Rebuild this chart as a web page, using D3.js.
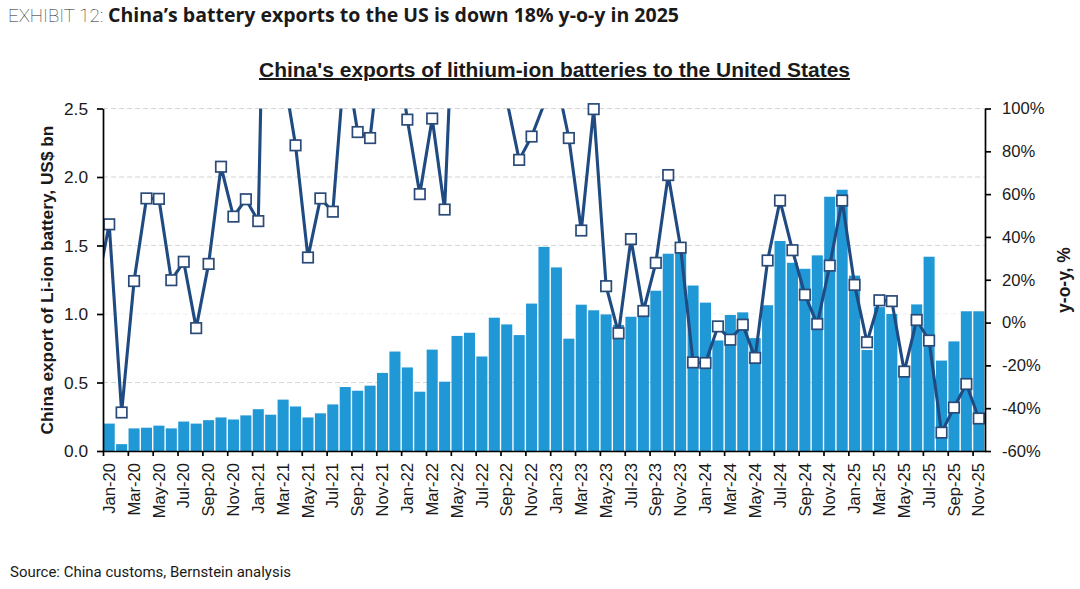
<!DOCTYPE html>
<html><head><meta charset="utf-8">
<script src="https://cdn.jsdelivr.net/npm/d3@7"></script>
<style>html,body{margin:0;padding:0;background:#fff}svg{display:block}text{font-family:"Liberation Sans",Arial,sans-serif;fill:#1a1a1a}</style>
</head><body><svg id="c" width="1080" height="589"></svg>
<script>
const years = ["20","21","22","23","24","25"];
const monthNames = ["Jan","Feb","Mar","Apr","May","Jun","Jul","Aug","Sep","Oct","Nov","Dec"];
const categories = years.flatMap(y => monthNames.map(m => m + "-" + y)).slice(0, 71);
const exportsUsdBn = [
 0.20,0.05,0.165,0.17,0.185,0.165,0.215,0.20,0.225,0.245,0.23,0.26,
 0.305,0.265,0.375,0.325,0.245,0.275,0.34,0.467,0.44,0.477,0.57,0.726,
 0.61,0.433,0.74,0.506,0.84,0.863,0.69,0.973,0.924,0.846,1.076,1.49,
 1.34,0.82,1.068,1.027,0.997,0.92,0.98,1.015,1.17,1.44,1.455,1.208,
 1.083,0.807,0.993,1.012,0.824,1.064,1.533,1.374,1.33,1.428,1.856,1.907,
 1.28,0.737,1.05,1.0,0.62,1.07,1.418,0.66,0.80,1.02,1.02];
const yoyPct = [
 45.9,-42,19.4,58,57.8,19.8,28.4,-2.6,27.4,72.8,49.5,57.6,
 47.4,320,118,82.8,30.4,58,51.8,125,89,86.2,137,135,
 94.8,60,95.3,52.8,190,200,180,150,104,76,86.9,102,
 114,86.2,43,99.7,17,-5,39,5.4,27.9,68.9,35,-18.6,
 -18.9,-1.8,-8,-1,-16.5,29,57,33.8,13,-0.7,26.6,57,
 17.6,-9.2,10.4,10,-22.9,1.2,-8.4,-51.4,-39.7,-28.7,-44.8];
const yoyBeforeStart = 16;
const leftTicks = [0,0.5,1,1.5,2,2.5];
const rightTicks = [-60,-40,-20,0,20,40,60,80,100];
const gridValues = [0.5,1,1.5,2,2.5];

const L=103,R=985,T=108.5,B=451;
const svg=d3.select("#c");
const x=d3.scaleBand().domain(categories).range([L,R]).paddingInner(0.11).paddingOuter(0.055);
const xi=d3.scaleLinear().domain([0,categories.length]).range([L,R]);
const yL=d3.scaleLinear().domain([0,2.5]).range([B,T]);
const yR=d3.scaleLinear().domain([-60,100]).range([B,T]);

// grid
svg.append("g").selectAll("line").data(gridValues).join("line")
 .attr("x1",L).attr("x2",R).attr("y1",d=>yL(d)).attr("y2",d=>yL(d))
 .attr("stroke",d=>d===1?"#efefef":"#d6d6d6").attr("stroke-width",1.2).attr("stroke-dasharray","5 3");
// bars
svg.append("g").selectAll("rect").data(exportsUsdBn).join("rect")
 .attr("x",(d,i)=>x(categories[i])).attr("width",x.bandwidth())
 .attr("y",d=>yL(d)).attr("height",d=>B-yL(d)).attr("fill","#2098d6");
// clip + line
svg.append("clipPath").attr("id","plot").append("rect").attr("x",L).attr("y",T).attr("width",R-L).attr("height",B-T);
const pts=[[-1,yoyBeforeStart],...yoyPct.map((v,i)=>[i,v])];
svg.append("path").datum(pts).attr("clip-path","url(#plot)")
 .attr("fill","none").attr("stroke","#1f4b82").attr("stroke-width",3.1).attr("stroke-linejoin","round")
 .attr("d",d3.line().x(d=>xi(d[0]+0.5)).y(d=>yR(d[1])));
const S=10.5;
svg.append("g").selectAll("rect").data(yoyPct.map((v,i)=>[i,v]).filter(d=>d[1]<=100)).join("rect")
 .attr("x",d=>xi(d[0]+0.5)-S/2).attr("y",d=>yR(d[1])-S/2).attr("width",S).attr("height",S)
 .attr("fill","#fff").attr("stroke","#2a4a78").attr("stroke-width",1.7);

// axes
const style=(g,fs)=>{g.selectAll("path,line").attr("stroke","#000").attr("stroke-width",1.7);
 g.selectAll("text").attr("font-size",fs).attr("fill","#222").style("font-family",'"Liberation Sans",Arial,sans-serif');};
const aL=svg.append("g").attr("transform",`translate(${L},0)`)
 .call(d3.axisLeft(yL).tickValues(leftTicks).tickFormat(d3.format(".1f")).tickSize(6).tickSizeOuter(0).tickPadding(9));
style(aL,17.3);
const aR=svg.append("g").attr("transform",`translate(${R},0)`)
 .call(d3.axisRight(yR).tickValues(rightTicks).tickFormat(d=>d+"%").tickSize(6).tickSizeOuter(0).tickPadding(11));
style(aR,16.6);
const aT=svg.append("g").attr("transform",`translate(0,${B})`)
 .call(d3.axisBottom(xi).tickValues(d3.range(0,categories.length+1,2)).tickFormat("").tickSize(5).tickSizeOuter(0));
style(aT,10);
const aB=svg.append("g").attr("transform",`translate(0,${B})`)
 .call(d3.axisBottom(x).tickValues(categories.filter((d,i)=>i%2===0)).tickSize(0).tickSizeOuter(0));
aB.select(".domain").remove();
aB.selectAll("text").attr("transform","rotate(-90)").attr("text-anchor","end")
 .attr("x",-12).attr("y",0).attr("dy","0.34em");
style(aB,16.6);

// titles
svg.append("text").attr("x",554.5).attr("y",77).attr("text-anchor","middle")
 .attr("font-size",20).attr("font-weight","bold").attr("text-decoration","underline").attr("fill","#111")
 .attr("textLength",591).attr("lengthAdjust","spacingAndGlyphs")
 .text("China's exports of lithium-ion batteries to the United States");
svg.append("text").attr("transform","translate(53,280) rotate(-90)").attr("text-anchor","middle")
 .attr("font-size",17.3).attr("font-weight","bold").attr("fill","#111").text("China export of Li-ion battery, US$ bn");
svg.append("text").attr("transform","translate(1070,280) rotate(-90)").attr("text-anchor","middle")
 .attr("font-size",17.5).attr("font-weight","bold").attr("fill","#111").text("y-o-y, %");
svg.append("text").attr("x",8).attr("y",22).attr("textLength",95).attr("lengthAdjust","spacingAndGlyphs")
 .style("font-family","Roboto,sans-serif").attr("font-weight",100).attr("font-size",19).attr("fill","#222").text("EXHIBIT 12:");
svg.append("text").attr("x",108).attr("y",22).attr("textLength",571).attr("lengthAdjust","spacingAndGlyphs")
 .style("font-family","'Open Sans',sans-serif").attr("font-weight",700).attr("font-size",19).attr("fill","#111")
 .text("China\u2019s battery exports to the US is down 18% y-o-y in 2025");
svg.append("text").attr("x",10).attr("y",577).attr("textLength",281).attr("lengthAdjust","spacingAndGlyphs")
 .style("font-family","Roboto,sans-serif").attr("font-size",14.5).attr("fill","#222").text("Source: China customs, Bernstein analysis");
</script></body></html>
